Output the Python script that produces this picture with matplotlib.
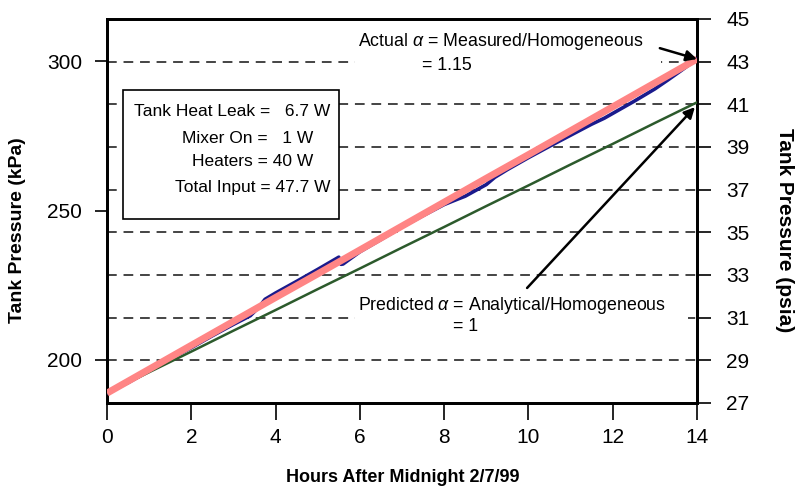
import matplotlib
matplotlib.use('Agg')
import matplotlib.pyplot as plt
from matplotlib.patches import Rectangle

plt.rcParams['font.family'] = ['Liberation Sans', 'DejaVu Sans']
plt.rcParams['mathtext.fontset'] = 'custom'
plt.rcParams['mathtext.it'] = 'Liberation Sans:italic'
plt.rcParams['mathtext.rm'] = 'Liberation Sans'

# Data
hours = [0, 1, 2, 3, 4, 5, 6, 7, 8, 9, 10, 11, 12, 13, 14]
fit_kpa = [188.9, 196.9, 204.9, 212.9, 220.9, 228.8, 236.8, 244.8,
           252.8, 260.8, 268.7, 276.7, 284.7, 292.7, 300.7]
predicted_kpa = [188.9, 195.9, 202.8, 209.8, 216.7, 223.7, 230.6, 237.6,
                 244.5, 251.5, 258.4, 265.4, 272.3, 279.3, 286.2]

meas_hours = [0, 0.5, 1, 1.5, 2, 2.5, 3, 3.4, 3.6, 3.75, 4, 4.5, 5, 5.5, 5.55,
              5.6, 6, 6.5, 7, 7.5, 8, 8.3, 8.5, 9, 9.2, 9.5, 10, 10.5, 11,
              11.5, 11.8, 12, 12.5, 13, 13.3, 13.6, 14]
meas_kpa = [188.9, 192.4, 196.4, 200.4, 204.1, 208.1, 211.9, 214.8, 217.6,
            220.3, 222.4, 226.3, 230.3, 234.4, 232.0, 232.1, 236.2, 240.3,
            244.5, 248.3, 252.0, 253.7, 254.8, 258.7, 261.1, 263.7, 267.7,
            271.5, 275.2, 278.9, 280.9, 282.5, 286.5, 290.7, 293.6, 296.6, 300.7]

psia_grid = [29, 31, 33, 35, 37, 39, 41, 43]
psia_ticks = [27, 29, 31, 33, 35, 37, 39, 41, 43, 45]
kpa_ticks = [200, 250, 300]
x_ticks = [0, 2, 4, 6, 8, 10, 12, 14]

box_lines = ['Tank Heat Leak =   6.7 W', 'Mixer On =   1 W',
             'Heaters = 40 W', 'Total Input = 47.7 W']

fig = plt.figure(figsize=(8.03, 4.93), dpi=100)
ax = fig.add_axes([0.1333, 0.1826, 0.7347, 0.7789])
ax2 = ax.twinx()

# dashed grid on the psia scale
for g in psia_grid:
    ax2.axhline(g, color='#444444', lw=1.4, ls=(0, (5, 3.5)), zorder=1)

ax.set_zorder(ax2.get_zorder() + 1)
ax.patch.set_visible(False)

# white gaps behind the annotation texts
ax.add_patch(Rectangle((0.420, 0.854), 0.519, 0.117, transform=ax.transAxes,
                       facecolor='white', edgecolor='none', zorder=1))
ax.add_patch(Rectangle((0.420, 0.164), 0.565, 0.117, transform=ax.transAxes,
                       facecolor='white', edgecolor='none', zorder=1))

ax.plot(meas_hours, meas_kpa, color='#1a1a8c', lw=2.6, zorder=3)
ax.plot(hours, fit_kpa, color='#ff8585', lw=5, zorder=4, solid_capstyle='butt')
ax.plot(hours, predicted_kpa, color='#2c5a2c', lw=1.8, zorder=3)

ax.set_xlim(0, 14)
ax.set_ylim(185.6, 314.1)
ax2.set_ylim(27, 45)

ax.set_xticks(x_ticks)
ax.set_yticks(kpa_ticks)
ax2.set_yticks(psia_ticks)

fs = 15
ax.tick_params(axis='y', direction='out', length=9, width=1.2, pad=9, labelsize=fs)
ax.tick_params(axis='x', direction='out', length=12, width=1.2, pad=6, labelsize=fs)
ax2.tick_params(axis='y', direction='out', length=10, width=1.2, pad=11, labelsize=fs)

for a in (ax, ax2):
    for s in a.spines.values():
        s.set_linewidth(2)

ax.set_xlabel('Hours After Midnight 2/7/99', fontsize=13, fontweight='bold')
ax.xaxis.set_label_coords(0.502, -0.172)
ax.set_ylabel('Tank Pressure (kPa)', fontsize=14, fontweight='bold', va='center')
ax.yaxis.set_label_coords(-0.151, 0.45)
ax2.set_ylabel('Tank Pressure (psia)', fontsize=15, fontweight='bold', rotation=-90,
               va='center')
ax2.yaxis.set_label_coords(1.149, 0.45)

# heat input box
ax.add_patch(Rectangle((0.027, 0.479), 0.366, 0.336, transform=ax.transAxes,
                       facecolor='white', edgecolor='black', lw=1.2, zorder=5))
box_x = [0.378, 0.349, 0.349, 0.378]
box_y = [0.758, 0.688, 0.628, 0.560]
for t, bx, by in zip(box_lines, box_x, box_y):
    ax.text(bx, by, t, transform=ax.transAxes, ha='right', va='center',
            fontsize=12.5, zorder=6)

# annotations
ax.text(0.426, 0.942, r'Actual $\alpha$ = Measured/Homogeneous', transform=ax.transAxes,
        ha='left', va='center', fontsize=12.8, zorder=6)
ax.text(0.534, 0.880, '= 1.15', transform=ax.transAxes, ha='left', va='center',
        fontsize=12.8, zorder=6)
ax.text(0.426, 0.255, r'Predicted $\alpha$ = Analytical/Homogeneous', transform=ax.transAxes,
        ha='left', va='center', fontsize=12.8, zorder=6)
ax.text(0.586, 0.198, '= 1', transform=ax.transAxes, ha='left', va='center',
        fontsize=12.8, zorder=6)

ax.annotate('', xy=(14, 300.7), xycoords='data', xytext=(0.937, 0.924),
            textcoords='axes fraction',
            arrowprops=dict(arrowstyle='-|>', color='black', lw=1.8, mutation_scale=16,
                            shrinkA=0, shrinkB=0), zorder=7)
ax.annotate('', xy=(13.95, 284.6), xycoords='data', xytext=(0.712, 0.2995),
            textcoords='axes fraction',
            arrowprops=dict(arrowstyle='-|>', color='black', lw=1.8, mutation_scale=16,
                            shrinkA=0, shrinkB=0), zorder=7)

fig.savefig('out.png', dpi=100)
